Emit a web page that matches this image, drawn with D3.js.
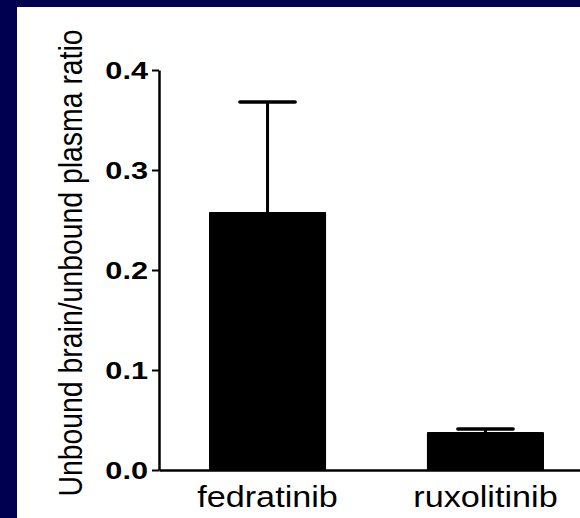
<!DOCTYPE html>
<html>
<head>
<meta charset="utf-8">
<script src="https://cdn.jsdelivr.net/npm/d3@7"></script>
<style>
  html, body { margin: 0; padding: 0; background: #000050; }
  svg { display: block; }
</style>
</head>
<body>
<div id="chart"></div>
<script>
var drugs = ["fedratinib", "ruxolitinib"];
var ratios = [0.257, 0.037];
var errors = [0.111, 0.004];
var yTicks = [0.0, 0.1, 0.2, 0.3, 0.4];

function init() {
  const w = 580;
  const h = 518;

  const svg = d3.select("#chart").append("svg")
    .attr("width", w)
    .attr("height", h);

  // dark frame + white panel
  svg.append("rect").attr("width", w).attr("height", h).attr("fill", "#000050");
  svg.append("rect")
    .attr("x", 17).attr("y", 7)
    .attr("width", w - 17).attr("height", h - 7)
    .attr("fill", "#ffffff");

  var y = d3.scaleLinear().domain([0, 0.4]).range([470, 70]);
  var x = d3.scaleBand().domain(drugs).range([159, 594])
    .paddingInner(0.472).paddingOuter(0.234);

  var data = drugs.map(function (d, i) {
    return { name: d, value: ratios[i], err: errors[i] };
  });

  // error bars (drawn first so bar covers lower half)
  var eb = svg.selectAll("g.err").data(data).enter().append("g").attr("class", "err");
  eb.append("line")
    .attr("x1", d => x(d.name) + x.bandwidth() / 2)
    .attr("x2", d => x(d.name) + x.bandwidth() / 2)
    .attr("y1", d => y(d.value))
    .attr("y2", d => y(d.value + d.err))
    .attr("stroke", "#000").attr("stroke-width", 3);
  eb.append("line")
    .attr("x1", d => x(d.name) + x.bandwidth() * 0.26)
    .attr("x2", d => x(d.name) + x.bandwidth() * 0.74)
    .attr("y1", d => y(d.value + d.err))
    .attr("y2", d => y(d.value + d.err))
    .attr("stroke", "#000").attr("stroke-width", 3.5)
    .attr("stroke-linecap", "round");

  // bars
  svg.selectAll("rect.bar").data(data).enter().append("rect")
    .attr("class", "bar")
    .attr("x", d => x(d.name))
    .attr("width", x.bandwidth())
    .attr("y", d => y(d.value))
    .attr("height", d => y(0) - y(d.value))
    .attr("fill", "#000")
    .attr("stroke", "#000")
    .attr("stroke-width", 2)
    .attr("stroke-linejoin", "round");

  // y axis
  var yAxis = svg.append("g")
    .attr("transform", "translate(159,0)")
    .call(d3.axisLeft(y).tickValues(yTicks).tickFormat(d3.format(".1f")).tickSize(7).tickSizeOuter(0));
  yAxis.select(".domain").attr("stroke-width", 2.5);
  yAxis.selectAll(".tick line").attr("stroke-width", 2);
  yAxis.selectAll(".tick text")
    .attr("x", null).attr("dy", null)
    .attr("font-family", "Liberation Sans, Arial, sans-serif")
    .attr("font-weight", "bold")
    .attr("font-size", "24px")
    .attr("fill", "#000")
    .attr("text-anchor", "end")
    .attr("transform", "translate(-11,8) scale(1.28,1)");

  // x axis (no ticks)
  var xAxis = svg.append("g")
    .attr("transform", "translate(0,470)")
    .call(d3.axisBottom(x).tickSize(0).tickSizeOuter(0));
  xAxis.select(".domain").attr("stroke-width", 2.5);
  xAxis.selectAll(".tick text")
    .attr("y", null).attr("dy", null)
    .attr("font-family", "Liberation Sans, Arial, sans-serif")
    .attr("font-size", "30px")
    .attr("fill", "#000")
    .attr("transform", "translate(0,37) scale(1.14,1)");

  // y label
  svg.append("text")
    .attr("transform", "translate(82,263) scale(1.15,1) rotate(-90)")
    .attr("text-anchor", "middle")
    .attr("font-family", "Liberation Sans, Arial, sans-serif")
    .attr("font-size", "28.4px")
    .attr("fill", "#000")
    .text("Unbound brain/unbound plasma ratio");
}
window.addEventListener("load", init);
</script>
</body>
</html>
